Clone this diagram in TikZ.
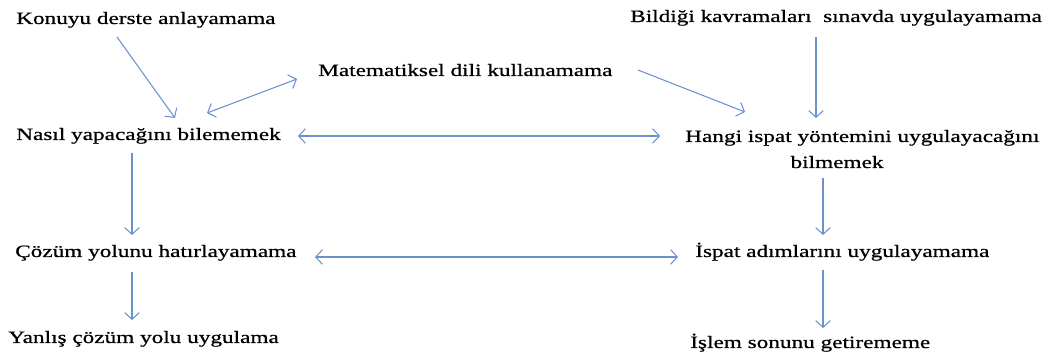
\documentclass[tikz,border=0pt]{standalone}
\usepackage{fontspec}
\setmainfont{Liberation Serif}[FakeStretch=1.34,FakeBold=0.7]
\usetikzlibrary{arrows.meta,calc}
\definecolor{figA}{HTML}{6A93CB}

\begin{document}
\begin{tikzpicture}[x=0.75pt,y=-0.75pt,>={Straight Barb[length=5pt,width=11pt]},
  lbl/.style={anchor=base west,inner sep=0pt,font=\fontsize{13pt}{19.5pt}\selectfont},
  conn/.style={figA,line width=0.8pt}]
\useasboundingbox (0,0) rectangle (1045,359);
% Causes
\node[lbl] (konu) at (16,24) {Konuyu derste anlayamama};
\node[lbl] (bildigi) at (630,22) {Bildiği kavramaları \ sınavda uygulayamama};
\node[lbl] (mat) at (318,76) {Matematiksel dili kullanamama};
% Middle row
\node[lbl] (nasil) at (16,140) {Nasıl yapacağını bilememek};
\node[lbl,align=left] (hangi) at (685,168) {Hangi ispat yöntemini uygulayacağını\\\hspace*{79pt}bilmemek};
\node[lbl] (cozum) at (15,257) {Çözüm yolunu hatırlayamama};
\node[lbl] (ispat) at (695,257) {İspat adımlarını uygulayamama};
% Results
\node[lbl] (yanlis) at (8,343) {Yanlış çözüm yolu uygulama};
\node[lbl] (islem) at (690,348) {İşlem sonunu getirememe};
% Connectors
\draw[conn,->] ([shift={(101,13)}]konu.base west) -- ([shift={(159,-22)}]nasil.base west);
\draw[conn,<->] ([shift={(191,-27)}]nasil.base west) -- ([shift={(-21,3)}]mat.base west);
\draw[conn,->] ([shift={(320,-6)}]mat.base west) -- ([shift={(60,-56)}]hangi.base west);
\draw[conn,->] ([shift={(186,15)}]bildigi.base west) -- ([shift={(131,-50)}]hangi.base west);
\draw[conn,<->] ([shift={(282,-4)}]nasil.base west) -- ([shift={(-25,-32)}]hangi.base west);
\draw[conn,->] ([shift={(116,13)}]nasil.base west) -- ([shift={(117,-22)}]cozum.base west);
\draw[conn,<->] ([shift={(300,0)}]cozum.base west) -- ([shift={(-17,0)}]ispat.base west);
\draw[conn,->] ([shift={(117,15)}]cozum.base west) -- ([shift={(124,-23)}]yanlis.base west);
\draw[conn,->] ([shift={(138,10)}]hangi.base west) -- ([shift={(128,-22)}]ispat.base west);
\draw[conn,->] ([shift={(128,13)}]ispat.base west) -- ([shift={(133,-20)}]islem.base west);
\end{tikzpicture}
\end{document}
